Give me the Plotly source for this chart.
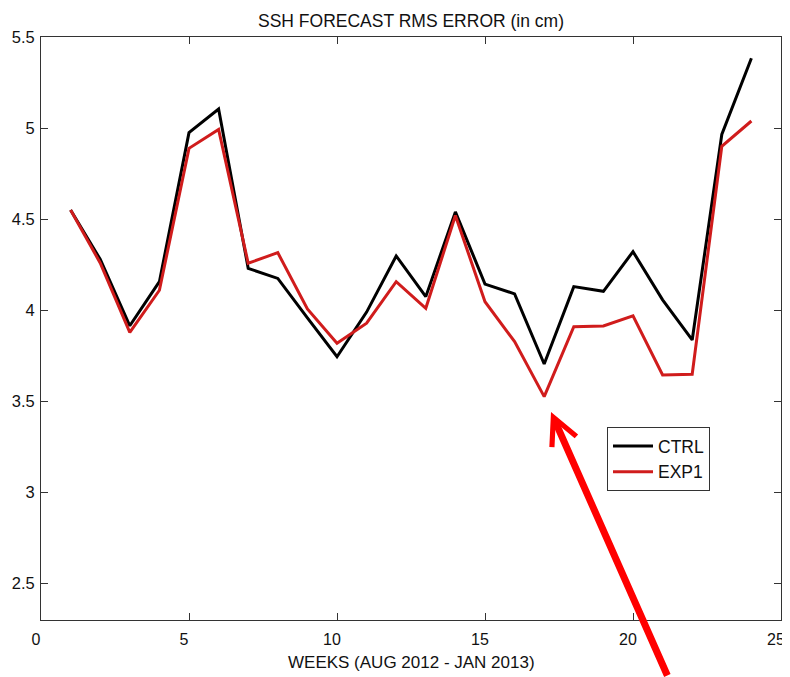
import plotly.graph_objects as go

weeks = list(range(1, 25))
ctrl = [4.55, 4.28, 3.915, 4.157, 4.975, 5.105, 4.23, 4.175, 3.958, 3.745, 3.99, 4.298,
        4.075, 4.54, 4.144, 4.09, 3.705, 4.13, 4.104, 4.322, 4.057, 3.837, 4.965, 5.383]
exp1 = [4.55, 4.26, 3.879, 4.11, 4.889, 4.993, 4.258, 4.316, 4.007, 3.819, 3.929, 4.157,
        4.011, 4.52, 4.047, 3.828, 3.526, 3.91, 3.914, 3.97, 3.645, 3.649, 4.9, 5.039]
x_ticks = [0, 5, 10, 15, 20, 25]
y_ticks = [2.5, 3, 3.5, 4, 4.5, 5, 5.5]

FONT = "Liberation Sans, Arial, Helvetica, sans-serif"

# page body has an 8px margin: figure is sized/placed to compensate
W, H = 782, 669
ML, MR, MT, MB = 33, 9, 29, 57
PW = W - ML - MR
PH = H - MT - MB

fig = go.Figure()
fig.add_trace(go.Scatter(x=weeks, y=ctrl, mode="lines", name="CTRL",
                         line=dict(color="black", width=3)))
fig.add_trace(go.Scatter(x=weeks, y=exp1, mode="lines", name="EXP1",
                         line=dict(color="#d01c1c", width=3)))

axis_common = dict(showline=True, linecolor="#333333", linewidth=1, mirror="ticks",
                   ticks="inside", ticklen=7, tickcolor="#333333", showgrid=False,
                   zeroline=False, automargin=False, ticklabeloverflow="allow")

fig.update_xaxes(range=[0, 25], tickvals=x_ticks, ticklabelstandoff=5, ticklabelshift=-5,
                 tickfont=dict(family=FONT, size=16, color="#111111"), **axis_common)
fig.update_yaxes(range=[2.3, 5.5], tickvals=y_ticks, ticktext=[str(v) for v in y_ticks],
                 ticklabelstandoff=2,
                 tickfont=dict(family=FONT, size=16.5, color="#111111"), **axis_common)

fig.add_annotation(x=0.5, y=-(666 - (H - MB)) / PH, xref="paper", yref="paper",
                   yanchor="bottom", text="WEEKS (AUG 2012 - JAN 2013)", showarrow=False,
                   font=dict(family=FONT, size=17, color="#111111"))

fig.add_annotation(x=17.23, y=3.442, xref="x", yref="y", text="", showarrow=True,
                   ax=117, ay=270, arrowcolor="#ff0000", arrowwidth=7,
                   arrowhead=5, arrowsize=0.75)

fig.update_layout(
    template="none",
    width=W, height=H,
    margin=dict(l=ML, r=MR, t=MT, b=MB),
    paper_bgcolor="white", plot_bgcolor="white",
    title=dict(text="SSH FORECAST RMS ERROR (in cm)",
               x=(ML + (W - MR)) / 2 / W, xanchor="center",
               y=1 - 19 / H, yanchor="bottom",
               font=dict(family=FONT, size=17.5, color="#111111")),
    legend=dict(x=(607 - 41) / PW, y=(620 - 427) / PH, xanchor="left", yanchor="top",
                bordercolor="#333333", borderwidth=1, bgcolor="white",
                font=dict(family=FONT, size=17.5, color="#111111"),
                itemwidth=40, tracegroupgap=0),
    showlegend=True,
)

fig.write_html("out.html")
